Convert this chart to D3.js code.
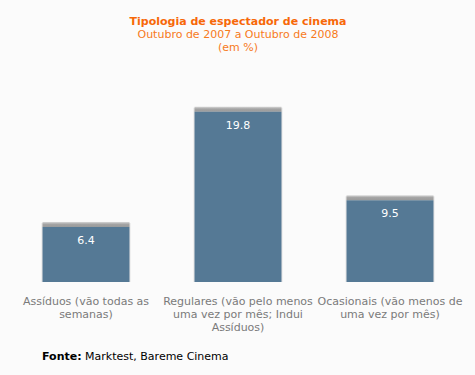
<!DOCTYPE html>
<html>
<head>
<meta charset="utf-8">
<script src="https://cdn.jsdelivr.net/npm/d3@7"></script>
<style>
  body { margin: 0; background: #fbfbfb; }
  svg { display: block; font-family: "DejaVu Sans", Verdana, sans-serif; }
</style>
</head>
<body>
<svg id="chart" width="475" height="375"></svg>
<script>
// Chart data
const categories = [
  'Assíduos (vão todas as semanas)',
  'Regulares (vão pelo menos uma vez por mês; Indui Assíduos)',
  'Ocasionais (vão menos de uma vez por mês)'
];
const values = [6.4, 19.8, 9.5];

const titleLines = ['Tipologia de espectador de cinema', 'Outubro de 2007 a Outubro de 2008', '(em %)'];

const width = 475, height = 375;
const baseline = 282;

const svg = d3.select('#chart');

svg.append('rect')
  .attr('width', width)
  .attr('height', height)
  .attr('fill', '#fbfbfb');

// Gradient for the grey top edge of each bar
const defs = svg.append('defs');
const grad = defs.append('linearGradient')
  .attr('id', 'topShade')
  .attr('x1', 0).attr('y1', 0).attr('x2', 0).attr('y2', 1);
grad.append('stop').attr('offset', '0%').attr('stop-color', '#d6d6d6');
grad.append('stop').attr('offset', '45%').attr('stop-color', '#a4a4a4');
grad.append('stop').attr('offset', '100%').attr('stop-color', '#9a9a9a');

// Scales
const x = d3.scaleBand()
  .domain(categories)
  .range([10, 466])
  .paddingInner(0.428)
  .paddingOuter(0.214);

const y = d3.scaleLinear()
  .domain([0, 20])
  .range([baseline, 110]);

// Title
const title = svg.append('g').attr('text-anchor', 'middle');
title.selectAll('text')
  .data(titleLines)
  .enter()
  .append('text')
  .attr('x', 238)
  .attr('y', (d, i) => 25 + i * 13)
  .attr('fill', (d, i) => i === 0 ? '#f76808' : '#f77a1c')
  .attr('font-weight', (d, i) => i === 0 ? 'bold' : 'normal')
  .attr('font-size', '11px')
  .text(d => d);

// Bars
const bars = svg.append('g')
  .selectAll('g')
  .data(values)
  .enter()
  .append('g');

// faint side edge
bars.append('rect')
  .attr('x', (d, i) => x(categories[i]) - 1)
  .attr('y', d => y(d) - 4)
  .attr('width', x.bandwidth() + 2)
  .attr('height', d => baseline - y(d) + 4)
  .attr('fill', '#e2e2e2');

// grey top
bars.append('rect')
  .attr('x', (d, i) => x(categories[i]))
  .attr('y', d => y(d) - 5)
  .attr('width', x.bandwidth())
  .attr('height', 5)
  .attr('fill', 'url(#topShade)');

bars.append('rect')
  .attr('x', (d, i) => x(categories[i]))
  .attr('y', d => y(d))
  .attr('width', x.bandwidth())
  .attr('height', d => baseline - y(d))
  .attr('fill', '#557995');

// Value labels
bars.append('text')
  .attr('x', (d, i) => x(categories[i]) + x.bandwidth() / 2)
  .attr('y', d => y(d) + 17)
  .attr('text-anchor', 'middle')
  .attr('fill', '#ffffff')
  .attr('font-size', '11px')
  .text(d => d.toFixed(1));

// Category labels, wrapped to the band step
function wrapLines(text, maxWidth, measure) {
  const words = text.split(' ');
  const lines = [];
  let line = '';
  words.forEach(w => {
    const test = line ? line + ' ' + w : w;
    if (line && measure(test) > maxWidth) {
      lines.push(line);
      line = w;
    } else {
      line = test;
    }
  });
  if (line) lines.push(line);
  return lines;
}

const probe = svg.append('text').attr('font-size', '11px').attr('visibility', 'hidden');
const measure = s => { probe.text(s); return probe.node().getComputedTextLength(); };

const labels = svg.append('g').attr('text-anchor', 'middle');
categories.forEach((c, i) => {
  const lines = wrapLines(c, 152, measure);
  const t = labels.append('text')
    .attr('x', x(c) + x.bandwidth() / 2)
    .attr('y', 305)
    .attr('fill', '#7a7a7a')
    .attr('font-size', '11px');
  lines.forEach((l, j) => {
    t.append('tspan')
      .attr('x', x(c) + x.bandwidth() / 2)
      .attr('dy', j === 0 ? 0 : 13)
      .text(l);
  });
});
probe.remove();

// Source
const src = svg.append('text')
  .attr('x', 42)
  .attr('y', 360)
  .attr('font-size', '11px')
  .attr('fill', '#000');
src.append('tspan').attr('font-weight', 'bold').text('Fonte:');
src.append('tspan').text(' Marktest, Bareme Cinema');
</script>
</body>
</html>
